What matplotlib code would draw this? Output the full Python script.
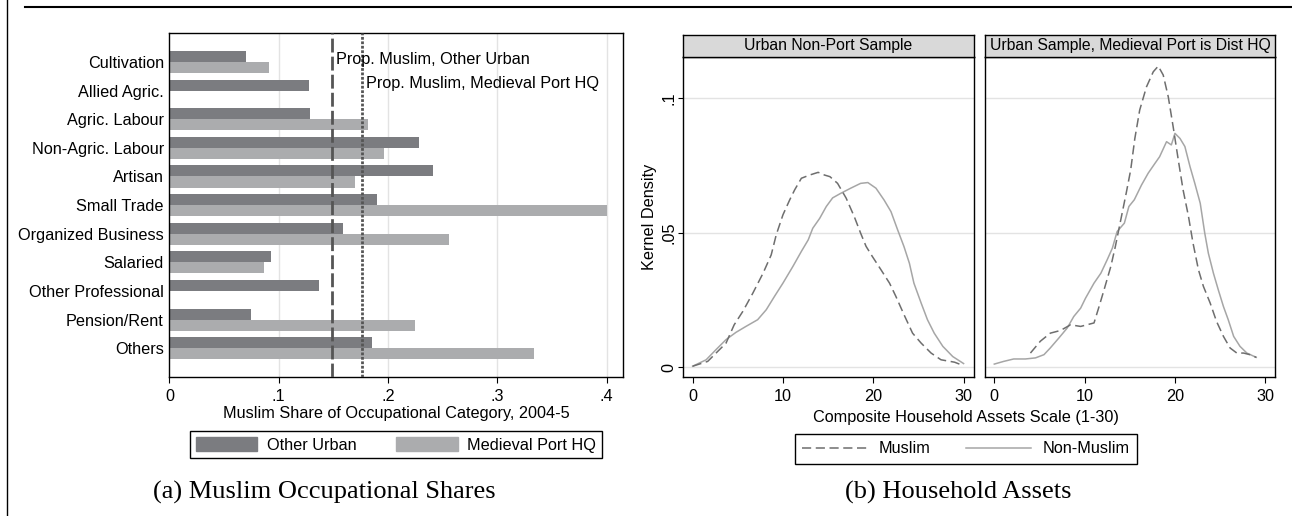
import numpy as np
import matplotlib
matplotlib.use("Agg")
import matplotlib.pyplot as plt
from matplotlib.lines import Line2D
from matplotlib.patches import Patch

plt.rcParams['font.family'] = ['Liberation Sans', 'DejaVu Sans']

# panel (a) data
categories = ["Cultivation", "Allied Agric.", "Agric. Labour", "Non-Agric. Labour",
              "Artisan", "Small Trade", "Organized Business", "Salaried",
              "Other Professional", "Pension/Rent", "Others"]
other_urban = [0.070, 0.128, 0.129, 0.228, 0.241, 0.190, 0.159, 0.093, 0.137, 0.075, 0.185]
port_hq = [0.091, 0.0, 0.182, 0.196, 0.170, 0.400, 0.256, 0.087, 0.0, 0.225, 0.334]
prop_other = 0.149
prop_port = 0.176
xticks_a = [0, 0.1, 0.2, 0.3, 0.4]
xticklabels_a = ["0", ".1", ".2", ".3", ".4"]

# panel (b) data
p1_mus_x = [0, 1.67, 3.7, 4.6, 5.56, 6.67, 7.8, 8.7, 9.26, 10, 10.74, 11.3, 12.04, 12.96,
            13.9, 14.6, 15.2, 16.05, 17, 17.9, 18.6, 19.2, 19.9, 20.85, 21.8, 22.5, 23.4,
            24.35, 25.3, 26.4, 27.5, 29, 30]
p1_mus_y = [0.0004, 0.0022, 0.009, 0.0158, 0.0208, 0.0276, 0.035, 0.0418, 0.0493, 0.0567,
            0.0622, 0.066, 0.0703, 0.0715, 0.0725, 0.0715, 0.0709, 0.0684, 0.0629, 0.056,
            0.0499, 0.045, 0.0412, 0.0363, 0.0313, 0.0264, 0.0196, 0.0127, 0.009, 0.0053,
            0.0028, 0.0019, 0.0006]
p1_non_x = [0, 1.5, 2.6, 3.7, 4.8, 5.9, 7.2, 8.15, 9.07, 10, 11.1, 12.04, 12.8, 13.3, 14.07,
            14.8, 15.5, 16.4, 17.5, 18.6, 19.4, 20.3, 21.2, 21.96, 22.7, 23.4, 24, 24.5,
            25.3, 26, 26.75, 27.7, 28.8, 30]
p1_non_y = [0.0004, 0.0028, 0.0066, 0.0103, 0.013, 0.0152, 0.0177, 0.0214, 0.0264, 0.0313,
            0.0375, 0.0431, 0.0474, 0.0517, 0.0554, 0.0598, 0.063, 0.0647, 0.0666, 0.0684,
            0.0687, 0.0666, 0.0622, 0.0579, 0.0511, 0.0449, 0.0387, 0.0313, 0.0239, 0.0177,
            0.0127, 0.0078, 0.004, 0.0014]
p2_mus_x = [4, 5.1, 6.2, 7.33, 8.44, 9.56, 11.04, 11.6, 12.15, 12.9, 13.4, 14, 14.6, 15.1,
            15.56, 16.1, 16.85, 17.6, 18.15, 18.7, 19.26, 19.8, 20.37, 20.9, 21.5, 22, 22.6,
            23.15, 23.9, 24.6, 25.37, 26.1, 26.85, 27.6, 28.3, 29]
p2_mus_y = [0.0053, 0.0097, 0.0127, 0.0137, 0.0158, 0.0152, 0.0165, 0.0226, 0.0288, 0.0375,
            0.0449, 0.0548, 0.0647, 0.0734, 0.0851, 0.0957, 0.1043, 0.1099, 0.112, 0.1087,
            0.1006, 0.0895, 0.0771, 0.066, 0.0561, 0.0462, 0.0363, 0.0301, 0.0239, 0.0171,
            0.0115, 0.0072, 0.0053, 0.0053, 0.0047, 0.0037]
p2_non_x = [0, 1.04, 2.15, 3.44, 4.56, 5.5, 6.2, 7.15, 8.07, 8.8, 9.56, 10.1, 11.04, 11.8,
            12.5, 13.07, 13.6, 14.4, 14.9, 15.5, 16.3, 17.04, 17.8, 18.3, 19.07, 19.6, 20,
            20.56, 21.1, 21.67, 22.2, 22.8, 23.3, 23.7, 24.26, 24.8, 25.37, 25.9, 26.5, 27.2,
            27.96, 29]
p2_non_y = [0.0012, 0.0022, 0.0031, 0.0031, 0.0035, 0.0047, 0.0072, 0.0109, 0.0146, 0.0189,
            0.022, 0.0257, 0.0313, 0.035, 0.04, 0.0443, 0.0505, 0.0536, 0.0598, 0.0623,
            0.0678, 0.0722, 0.0759, 0.0783, 0.0839, 0.0827, 0.087, 0.0851, 0.0821, 0.0746,
            0.0684, 0.061, 0.0499, 0.0424, 0.035, 0.0288, 0.0226, 0.0177, 0.0115, 0.0078,
            0.0053, 0.0037]
strip_titles = ["Urban Non-Port Sample", "Urban Sample, Medieval Port is Dist HQ"]

dark = "#7b7c80"
light = "#abacae"
grid_c = "#e3e3e3"
fs = 11.7

fig = plt.figure(figsize=(12.92, 5.16), dpi=100)

# frame lines of the page
fig.add_artist(Line2D([0.019, 1.0], [0.987, 0.987], color="black", lw=1.5))
fig.add_artist(Line2D([0.0055, 0.0055], [0.0, 1.0], color="black", lw=1.0))

# ---- panel (a)
ax = fig.add_axes([0.1311, 0.2694, 0.3511, 0.6661])
ypos = np.arange(len(categories))
h = 0.385
ax.barh(ypos - h / 2, other_urban, height=h, color=dark, zorder=2)
ax.barh(ypos + h / 2, port_hq, height=h, color=light, zorder=2)
ax.set_ylim(11, -1)
ax.set_xlim(0, 0.415)
ax.set_yticks(ypos)
ax.set_yticklabels(categories, fontsize=fs)
ax.tick_params(axis="y", length=0, pad=4)
ax.set_xticks(xticks_a)
ax.set_xticklabels(xticklabels_a, fontsize=fs)
ax.tick_params(axis="x", length=4, pad=5)
for t in xticks_a[1:]:
    ax.axvline(t, color=grid_c, lw=1, zorder=1)
ax.axvline(prop_other, color="#555555", lw=2, ls=(0, (5, 1.5)), zorder=3)
ax.axvline(prop_port, color="#555555", lw=2, ls=(0, (1, 0.6)), zorder=3)
ax.text(prop_other + 0.0035, -0.1, "Prop. Muslim, Other Urban", fontsize=fs, va="center", ha="left")
ax.text(prop_port + 0.0035, 0.74, "Prop. Muslim, Medieval Port HQ", fontsize=fs, va="center", ha="left")
ax.set_xlabel("Muslim Share of Occupational Category, 2004-5", fontsize=fs, labelpad=1)
for s in ax.spines.values():
    s.set_linewidth(1)

leg_a = fig.legend(handles=[Patch(color=dark, label="Other Urban"),
                            Patch(color=light, label="Medieval Port HQ")],
                   loc="center", bbox_to_anchor=(0.3065, 0.138), ncol=2, fontsize=fs,
                   handlelength=3.8, handleheight=1.0, handletextpad=0.6, columnspacing=2.4,
                   fancybox=False, edgecolor="black", framealpha=1, borderpad=0.35)
leg_a.get_frame().set_linewidth(1)

# ---- panel (b)
lefts = [0.5286, 0.7621]
curves = [(p1_mus_x, p1_mus_y, p1_non_x, p1_non_y), (p2_mus_x, p2_mus_y, p2_non_x, p2_non_y)]
for i in range(2):
    a = fig.add_axes([lefts[i], 0.2694, 0.2249, 0.6207])
    mx, my, nx, ny = curves[i]
    for g in [0, 0.05, 0.1]:
        a.axhline(g, color=grid_c, lw=1, zorder=1)
    a.plot(mx, my, color="#6e6e6e", lw=1.1, ls=(0, (6, 3)), zorder=3)
    a.plot(nx, ny, color="#a6a6a6", lw=1.1, zorder=2)
    a.set_xlim(-1.07, 31.1)
    a.set_ylim(-0.0036, 0.1155)
    a.set_xticks([0, 10, 20, 30])
    a.set_xticklabels(["0", "10", "20", "30"], fontsize=fs)
    a.tick_params(axis="x", length=4, pad=5)
    if i == 0:
        a.set_yticks([0, 0.05, 0.1])
        a.set_yticklabels(["0", ".05", ".1"], fontsize=fs, rotation=90, va="center")
        a.tick_params(axis="y", length=3.5, pad=1.5)
        a.set_ylabel("Kernel Density", fontsize=fs, labelpad=3)
    else:
        a.set_yticks([])
    for s in a.spines.values():
        s.set_linewidth(1)
    st = fig.add_axes([lefts[i], 0.8901, 0.2249, 0.042])
    st.set_facecolor("#d9d9d9")
    st.set_xticks([])
    st.set_yticks([])
    for s in st.spines.values():
        s.set_linewidth(1)
    st.text(0.5, 0.5, strip_titles[i], fontsize=11.3, ha="center", va="center", transform=st.transAxes)

fig.text(0.7477, 0.19, "Composite Household Assets Scale (1-30)", fontsize=fs, ha="center", va="center")
leg_b = fig.legend(handles=[Line2D([], [], color="#6e6e6e", lw=1.1, ls=(0, (6, 3)), label="Muslim"),
                            Line2D([], [], color="#a6a6a6", lw=1.1, label="Non-Muslim")],
                   loc="center", bbox_to_anchor=(0.7474, 0.130), ncol=2, fontsize=fs,
                   handlelength=4.0, handletextpad=0.7, columnspacing=2.2,
                   fancybox=False, edgecolor="black", framealpha=1, borderpad=0.45)
leg_b.get_frame().set_linewidth(1)

fig.text(0.2512, 0.0465, "(a) Muslim Occupational Shares", fontsize=19,
         family=["Liberation Serif", "DejaVu Serif"], ha="center", va="center")
fig.text(0.7415, 0.0465, "(b) Household Assets", fontsize=19,
         family=["Liberation Serif", "DejaVu Serif"], ha="center", va="center")

fig.savefig("out.png", dpi=100)
